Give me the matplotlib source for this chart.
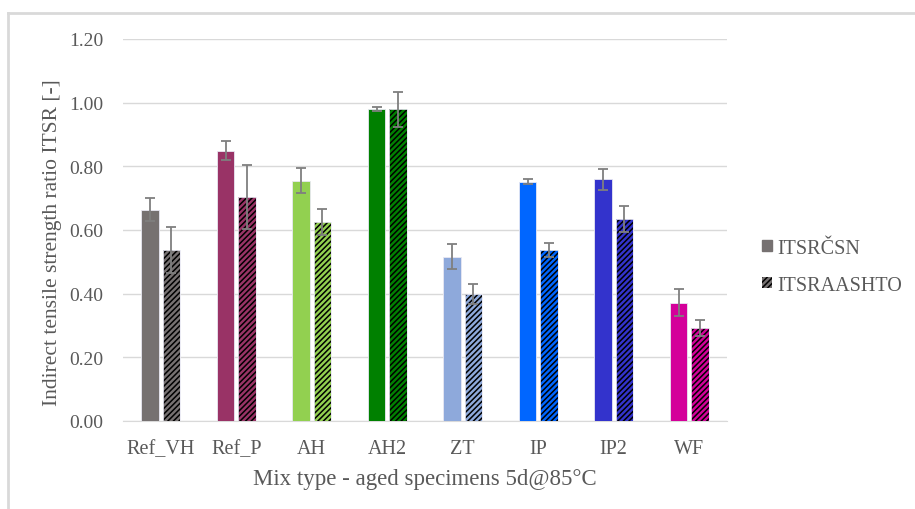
import numpy as np
import matplotlib
matplotlib.use("Agg")
import matplotlib.pyplot as plt
from matplotlib.patches import Patch
from matplotlib.lines import Line2D

mixes = ["Ref_VH", "Ref_P", "AH", "AH2", "ZT", "IP", "IP2", "WF"]
itsr_csn = [0.663, 0.849, 0.755, 0.980, 0.516, 0.752, 0.759, 0.372]
itsr_csn_err = [0.036, 0.030, 0.040, 0.006, 0.040, 0.007, 0.033, 0.043]
itsr_aashto = [0.537, 0.704, 0.625, 0.980, 0.399, 0.537, 0.635, 0.292]
itsr_aashto_err = [0.071, 0.100, 0.040, 0.055, 0.030, 0.023, 0.040, 0.026]
colors = ["#767171", "#993366", "#92D050", "#008000", "#8EA9DB", "#0066FF", "#3333CC", "#D4009A"]

SERIF = ["Liberation Serif", "DejaVu Serif"]
TXT = "#595959"
plt.rcParams["font.family"] = SERIF
plt.rcParams["hatch.linewidth"] = 1.1

fig = plt.figure(figsize=(9.15, 5.1), dpi=100)
ax = fig.add_axes([123 / 915, 1 - 422 / 510, 604 / 915, 382 / 510])

# cadre du graphique (haut et gauche)
y_top = 1 - 14 / 510
x_left = 8 / 915
fig.add_artist(Line2D([x_left, 1], [y_top, y_top], transform=fig.transFigure, color="#D9D9D9", lw=2))
fig.add_artist(Line2D([x_left, x_left], [0, y_top], transform=fig.transFigure, color="#D9D9D9", lw=2))

x = np.arange(len(mixes))
w = 0.23
off = 0.142

ax.bar(x - off, itsr_csn, w, color=colors, edgecolor="#E8E8F2", linewidth=0.6, zorder=3)
ax.bar(x + off, itsr_aashto, w, color=colors, edgecolor="black", linewidth=0, hatch="//////", zorder=3)
ax.bar(x + off, itsr_aashto, w, fill=False, edgecolor="#E8E8F2", linewidth=0.6, zorder=3)

err_kw = dict(fmt="none", ecolor="#7F7F7F", elinewidth=1.3, capsize=3.8, capthick=1.3, zorder=4)
ax.errorbar(x - off, itsr_csn, yerr=itsr_csn_err, **err_kw)
ax.errorbar(x + off, itsr_aashto, yerr=itsr_aashto_err, **err_kw)

ax.set_xlim(-0.5, len(mixes) - 0.5)
ax.set_ylim(0, 1.2)
yt = np.arange(0, 1.21, 0.2)
ax.set_yticks(yt)
ax.set_yticklabels([f"{v:.2f}" for v in yt])
ax.set_xticks(x)
ax.set_xticklabels(mixes)
ax.tick_params(axis="x", length=0, labelsize=14.5, labelcolor=TXT, pad=13)
ax.tick_params(axis="y", length=0, labelsize=14, labelcolor=TXT, pad=14)
ax.grid(axis="y", color="#D9D9D9", linewidth=1, zorder=0)
for s in ["top", "right", "left"]:
    ax.spines[s].set_visible(False)
ax.spines["bottom"].set_color("#D9D9D9")

ax.set_ylabel("Indirect tensile strength ratio ITSR [-]", fontsize=15.5, color=TXT)
ax.yaxis.set_label_coords(-0.101, 0.469)
ax.set_xlabel("Mix type - aged specimens 5d@85°C", fontsize=16.5, color=TXT, labelpad=7)

handles = [Patch(facecolor="#767171", edgecolor="#767171"),
           Patch(facecolor="#767171", edgecolor="black", hatch="//////", linewidth=0)]
fig.legend(handles, ["ITSRČSN", "ITSRAASHTO"], loc="center left", bbox_to_anchor=(762 / 915, 0.475),
           frameon=False, prop={"family": SERIF, "size": 14.5}, handlelength=0.5, handleheight=0.5,
           handletextpad=0.25, labelspacing=0.9, borderpad=0, borderaxespad=0, labelcolor=TXT)

fig.savefig("out.png", dpi=100)
